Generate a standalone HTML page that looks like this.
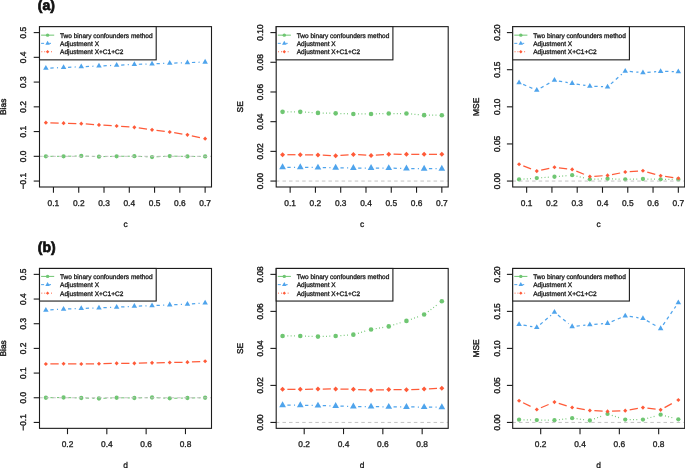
<!DOCTYPE html>
<html lang="en">
<head>
<meta charset="utf-8">
<title>Figure: Bias, SE and MSE</title>
<style>
html,body{margin:0;padding:0;background:#fff;}
body{width:685px;height:468px;overflow:hidden;}
svg{display:block;font-family:'Liberation Sans', Arial, Helvetica, sans-serif;text-rendering:geometricPrecision;}
text{stroke:#1c1c1c;stroke-width:0.32px;}
text.v{stroke-width:0.42px;}
</style>
</head>
<body>
<svg width="685" height="468" viewBox="0 0 685 468">
<rect x="0" y="0" width="685" height="468" fill="#fff"/>
<g>
<line x1="50.37" y1="156.32" x2="59.07" y2="156.32" stroke="#6fc672" stroke-width="1" stroke-dasharray="3.3 3.3"/>
<line x1="68.06" y1="156.22" x2="76.76" y2="156.04" stroke="#6fc672" stroke-width="1" stroke-dasharray="3.3 3.3"/>
<line x1="85.76" y1="156.13" x2="94.46" y2="156.5" stroke="#6fc672" stroke-width="1" stroke-dasharray="3.3 3.3"/>
<line x1="103.46" y1="156.59" x2="112.15" y2="156.41" stroke="#6fc672" stroke-width="1" stroke-dasharray="3.3 3.3"/>
<line x1="121.15" y1="156.28" x2="129.85" y2="156.22" stroke="#6fc672" stroke-width="1" stroke-dasharray="3.3 3.3"/>
<line x1="138.84" y1="156.41" x2="147.55" y2="156.84" stroke="#6fc672" stroke-width="1" stroke-dasharray="3.3 3.3"/>
<line x1="156.54" y1="156.81" x2="165.25" y2="156.32" stroke="#6fc672" stroke-width="1" stroke-dasharray="3.3 3.3"/>
<line x1="174.24" y1="156.16" x2="182.94" y2="156.35" stroke="#6fc672" stroke-width="1" stroke-dasharray="3.3 3.3"/>
<line x1="191.93" y1="156.44" x2="200.63" y2="156.44" stroke="#6fc672" stroke-width="1" stroke-dasharray="3.3 3.3"/>
<circle cx="45.87" cy="156.32" r="2.15" fill="#6fc672"/>
<circle cx="63.57" cy="156.32" r="2.15" fill="#6fc672"/>
<circle cx="81.26" cy="155.94" r="2.15" fill="#6fc672"/>
<circle cx="98.96" cy="156.69" r="2.15" fill="#6fc672"/>
<circle cx="116.65" cy="156.32" r="2.15" fill="#6fc672"/>
<circle cx="134.35" cy="156.19" r="2.15" fill="#6fc672"/>
<circle cx="152.04" cy="157.06" r="2.15" fill="#6fc672"/>
<circle cx="169.74" cy="156.07" r="2.15" fill="#6fc672"/>
<circle cx="187.43" cy="156.44" r="2.15" fill="#6fc672"/>
<circle cx="205.13" cy="156.44" r="2.15" fill="#6fc672"/>
<line x1="50.37" y1="68.07" x2="59.07" y2="67.68" stroke="#4fa4ec" stroke-width="1.25" stroke-dasharray="3.3 3.3 1.1 3"/>
<line x1="68.06" y1="67.29" x2="76.77" y2="66.93" stroke="#4fa4ec" stroke-width="1.25" stroke-dasharray="3.3 3.3 1.1 3"/>
<line x1="85.76" y1="66.55" x2="94.46" y2="66.18" stroke="#4fa4ec" stroke-width="1.25" stroke-dasharray="3.3 3.3 1.1 3"/>
<line x1="103.45" y1="65.81" x2="112.16" y2="65.44" stroke="#4fa4ec" stroke-width="1.25" stroke-dasharray="3.3 3.3 1.1 3"/>
<line x1="121.15" y1="65.03" x2="129.85" y2="64.61" stroke="#4fa4ec" stroke-width="1.25" stroke-dasharray="3.3 3.3 1.1 3"/>
<line x1="138.85" y1="64.25" x2="147.55" y2="63.98" stroke="#4fa4ec" stroke-width="1.25" stroke-dasharray="3.3 3.3 1.1 3"/>
<line x1="156.54" y1="63.67" x2="165.24" y2="63.33" stroke="#4fa4ec" stroke-width="1.25" stroke-dasharray="3.3 3.3 1.1 3"/>
<line x1="174.24" y1="63.02" x2="182.94" y2="62.78" stroke="#4fa4ec" stroke-width="1.25" stroke-dasharray="3.3 3.3 1.1 3"/>
<line x1="191.93" y1="62.5" x2="200.63" y2="62.19" stroke="#4fa4ec" stroke-width="1.25" stroke-dasharray="3.3 3.3 1.1 3"/>
<polygon points="45.87,65.08 48.63,69.87 43.11,69.87" fill="#4fa4ec"/>
<polygon points="63.57,64.29 66.33,69.07 60.8,69.07" fill="#4fa4ec"/>
<polygon points="81.26,63.55 84.02,68.33 78.5,68.33" fill="#4fa4ec"/>
<polygon points="98.96,62.81 101.72,67.59 96.2,67.59" fill="#4fa4ec"/>
<polygon points="116.65,62.06 119.41,66.85 113.89,66.85" fill="#4fa4ec"/>
<polygon points="134.35,61.2 137.11,65.98 131.59,65.98" fill="#4fa4ec"/>
<polygon points="152.04,60.65 154.8,65.44 149.28,65.44" fill="#4fa4ec"/>
<polygon points="169.74,59.96 172.5,64.74 166.98,64.74" fill="#4fa4ec"/>
<polygon points="187.43,59.47 190.2,64.25 184.67,64.25" fill="#4fa4ec"/>
<polygon points="205.13,58.85 207.89,63.63 202.37,63.63" fill="#4fa4ec"/>
<line x1="50.37" y1="122.79" x2="59.07" y2="123.03" stroke="#ff5a38" stroke-width="1.25" stroke-dasharray="8.3 4"/>
<line x1="68.06" y1="123.28" x2="76.76" y2="123.53" stroke="#ff5a38" stroke-width="1.25" stroke-dasharray="8.3 4"/>
<line x1="85.75" y1="123.97" x2="94.47" y2="124.58" stroke="#ff5a38" stroke-width="1.25" stroke-dasharray="8.3 4"/>
<line x1="103.45" y1="125.18" x2="112.16" y2="125.76" stroke="#ff5a38" stroke-width="1.25" stroke-dasharray="8.3 4"/>
<line x1="121.14" y1="126.38" x2="129.86" y2="127.03" stroke="#ff5a38" stroke-width="1.25" stroke-dasharray="8.3 4"/>
<line x1="138.8" y1="127.99" x2="147.59" y2="129.23" stroke="#ff5a38" stroke-width="1.25" stroke-dasharray="8.3 4"/>
<line x1="156.51" y1="130.39" x2="165.27" y2="131.44" stroke="#ff5a38" stroke-width="1.25" stroke-dasharray="8.3 4"/>
<line x1="174.18" y1="132.69" x2="182.99" y2="134.13" stroke="#ff5a38" stroke-width="1.25" stroke-dasharray="8.3 4"/>
<line x1="191.83" y1="135.81" x2="200.73" y2="137.72" stroke="#ff5a38" stroke-width="1.25" stroke-dasharray="8.3 4"/>
<polygon points="43.82,122.66 45.87,120.61 47.92,122.66 45.87,124.71" fill="#ff5a38"/>
<polygon points="61.52,123.16 63.57,121.11 65.62,123.16 63.57,125.21" fill="#ff5a38"/>
<polygon points="79.21,123.65 81.26,121.6 83.31,123.65 81.26,125.7" fill="#ff5a38"/>
<polygon points="96.91,124.89 98.96,122.84 101.01,124.89 98.96,126.94" fill="#ff5a38"/>
<polygon points="114.6,126.05 116.65,124 118.7,126.05 116.65,128.1" fill="#ff5a38"/>
<polygon points="132.3,127.36 134.35,125.31 136.4,127.36 134.35,129.41" fill="#ff5a38"/>
<polygon points="149.99,129.86 152.04,127.81 154.09,129.86 152.04,131.91" fill="#ff5a38"/>
<polygon points="167.69,131.97 169.74,129.92 171.79,131.97 169.74,134.02" fill="#ff5a38"/>
<polygon points="185.38,134.86 187.43,132.81 189.48,134.86 187.43,136.91" fill="#ff5a38"/>
<polygon points="203.08,138.67 205.13,136.62 207.18,138.67 205.13,140.72" fill="#ff5a38"/>
<line x1="39.2" y1="156.32" x2="211" y2="156.32" stroke="#c0c0c0" stroke-width="0.95" stroke-dasharray="3.5 3.07"/>
<rect x="39.5" y="26.65" width="172" height="160.35" fill="none" stroke="#1c1c1c" stroke-width="1.1"/>
<line x1="53.45" y1="187" x2="53.45" y2="192.8" stroke="#1c1c1c" stroke-width="1.1"/>
<text x="53.45" y="206" font-size="8.4" text-anchor="middle" fill="#1c1c1c">0.1</text>
<line x1="78.73" y1="187" x2="78.73" y2="192.8" stroke="#1c1c1c" stroke-width="1.1"/>
<text x="78.73" y="206" font-size="8.4" text-anchor="middle" fill="#1c1c1c">0.2</text>
<line x1="104.01" y1="187" x2="104.01" y2="192.8" stroke="#1c1c1c" stroke-width="1.1"/>
<text x="104.01" y="206" font-size="8.4" text-anchor="middle" fill="#1c1c1c">0.3</text>
<line x1="129.29" y1="187" x2="129.29" y2="192.8" stroke="#1c1c1c" stroke-width="1.1"/>
<text x="129.29" y="206" font-size="8.4" text-anchor="middle" fill="#1c1c1c">0.4</text>
<line x1="154.57" y1="187" x2="154.57" y2="192.8" stroke="#1c1c1c" stroke-width="1.1"/>
<text x="154.57" y="206" font-size="8.4" text-anchor="middle" fill="#1c1c1c">0.5</text>
<line x1="179.85" y1="187" x2="179.85" y2="192.8" stroke="#1c1c1c" stroke-width="1.1"/>
<text x="179.85" y="206" font-size="8.4" text-anchor="middle" fill="#1c1c1c">0.6</text>
<line x1="205.13" y1="187" x2="205.13" y2="192.8" stroke="#1c1c1c" stroke-width="1.1"/>
<text x="205.13" y="206" font-size="8.4" text-anchor="middle" fill="#1c1c1c">0.7</text>
<line x1="33.7" y1="181.06" x2="39.5" y2="181.06" stroke="#1c1c1c" stroke-width="1.1"/>
<text transform="translate(26.4 181.06) rotate(-90)" class="v" font-size="8.4" text-anchor="middle" fill="#1c1c1c">−0.1</text>
<line x1="33.7" y1="156.32" x2="39.5" y2="156.32" stroke="#1c1c1c" stroke-width="1.1"/>
<text transform="translate(26.4 156.32) rotate(-90)" class="v" font-size="8.4" text-anchor="middle" fill="#1c1c1c">0.0</text>
<line x1="33.7" y1="131.57" x2="39.5" y2="131.57" stroke="#1c1c1c" stroke-width="1.1"/>
<text transform="translate(26.4 131.57) rotate(-90)" class="v" font-size="8.4" text-anchor="middle" fill="#1c1c1c">0.1</text>
<line x1="33.7" y1="106.83" x2="39.5" y2="106.83" stroke="#1c1c1c" stroke-width="1.1"/>
<text transform="translate(26.4 106.83) rotate(-90)" class="v" font-size="8.4" text-anchor="middle" fill="#1c1c1c">0.2</text>
<line x1="33.7" y1="82.08" x2="39.5" y2="82.08" stroke="#1c1c1c" stroke-width="1.1"/>
<text transform="translate(26.4 82.08) rotate(-90)" class="v" font-size="8.4" text-anchor="middle" fill="#1c1c1c">0.3</text>
<line x1="33.7" y1="57.33" x2="39.5" y2="57.33" stroke="#1c1c1c" stroke-width="1.1"/>
<text transform="translate(26.4 57.33) rotate(-90)" class="v" font-size="8.4" text-anchor="middle" fill="#1c1c1c">0.4</text>
<line x1="33.7" y1="32.59" x2="39.5" y2="32.59" stroke="#1c1c1c" stroke-width="1.1"/>
<text transform="translate(26.4 32.59) rotate(-90)" class="v" font-size="8.4" text-anchor="middle" fill="#1c1c1c">0.5</text>
<text x="125.5" y="226.6" font-size="8.4" text-anchor="middle" fill="#1c1c1c">c</text>
<text transform="translate(6.1 106.83) rotate(-90)" class="v" font-size="8.4" text-anchor="middle" fill="#1c1c1c">Bias</text>
<rect x="39.5" y="26.65" width="116.7" height="33.2" fill="#fff" stroke="#1c1c1c" stroke-width="1.1"/>
<line x1="41.1" y1="35.15" x2="54.2" y2="35.15" stroke="#6fc672" stroke-width="1"/>
<circle cx="47.6" cy="35.15" r="1.7" fill="#6fc672"/>
<text x="60" y="37.5" font-size="6.52" fill="#1c1c1c" textLength="92.6" lengthAdjust="spacing">Two binary confounders method</text>
<line x1="41.1" y1="43.35" x2="44.1" y2="43.35" stroke="#4fa4ec" stroke-width="1"/>
<line x1="49.1" y1="43.35" x2="51" y2="43.35" stroke="#4fa4ec" stroke-width="1"/>
<polygon points="47.6,40.71 49.89,44.67 45.31,44.67" fill="#4fa4ec"/>
<text x="60" y="45.7" font-size="6.52" fill="#1c1c1c" textLength="39.0" lengthAdjust="spacing">Adjustment X</text>
<line x1="41.4" y1="51.75" x2="42.3" y2="51.75" stroke="#ff5a38" stroke-width="1"/>
<line x1="44.3" y1="51.75" x2="45.2" y2="51.75" stroke="#ff5a38" stroke-width="1"/>
<line x1="51" y1="51.75" x2="51.9" y2="51.75" stroke="#ff5a38" stroke-width="1"/>
<polygon points="45.9,51.75 47.6,50.05 49.3,51.75 47.6,53.45" fill="#ff5a38"/>
<text x="60" y="54.1" font-size="6.52" fill="#1c1c1c" textLength="63.4" lengthAdjust="spacing">Adjustment X+C1+C2</text>
</g>
<g>
<line x1="287.37" y1="111.87" x2="295.47" y2="111.87" stroke="#6fc672" stroke-width="1.25" stroke-dasharray="0.9 2.4"/>
<line x1="305.06" y1="112.15" x2="313.17" y2="112.63" stroke="#6fc672" stroke-width="1.25" stroke-dasharray="0.9 2.4"/>
<line x1="322.76" y1="113.03" x2="330.86" y2="113.24" stroke="#6fc672" stroke-width="1.25" stroke-dasharray="0.9 2.4"/>
<line x1="340.45" y1="113.52" x2="348.55" y2="113.79" stroke="#6fc672" stroke-width="1.25" stroke-dasharray="0.9 2.4"/>
<line x1="358.15" y1="113.95" x2="366.25" y2="113.95" stroke="#6fc672" stroke-width="1.25" stroke-dasharray="0.9 2.4"/>
<line x1="375.85" y1="113.83" x2="383.94" y2="113.63" stroke="#6fc672" stroke-width="1.25" stroke-dasharray="0.9 2.4"/>
<line x1="393.54" y1="113.51" x2="401.64" y2="113.51" stroke="#6fc672" stroke-width="1.25" stroke-dasharray="0.9 2.4"/>
<line x1="411.22" y1="113.95" x2="419.35" y2="114.7" stroke="#6fc672" stroke-width="1.25" stroke-dasharray="0.9 2.4"/>
<line x1="428.93" y1="115.18" x2="437.03" y2="115.25" stroke="#6fc672" stroke-width="1.25" stroke-dasharray="0.9 2.4"/>
<circle cx="282.57" cy="111.87" r="2.3" fill="#6fc672"/>
<circle cx="300.27" cy="111.87" r="2.3" fill="#6fc672"/>
<circle cx="317.96" cy="112.91" r="2.3" fill="#6fc672"/>
<circle cx="335.66" cy="113.36" r="2.3" fill="#6fc672"/>
<circle cx="353.35" cy="113.95" r="2.3" fill="#6fc672"/>
<circle cx="371.05" cy="113.95" r="2.3" fill="#6fc672"/>
<circle cx="388.74" cy="113.51" r="2.3" fill="#6fc672"/>
<circle cx="406.44" cy="113.51" r="2.3" fill="#6fc672"/>
<circle cx="424.13" cy="115.14" r="2.3" fill="#6fc672"/>
<circle cx="441.83" cy="115.29" r="2.3" fill="#6fc672"/>
<line x1="287.37" y1="167.25" x2="295.47" y2="167.25" stroke="#4fa4ec" stroke-width="1.25" stroke-dasharray="3.3 3.3 1.1 3"/>
<line x1="305.07" y1="167.33" x2="313.16" y2="167.47" stroke="#4fa4ec" stroke-width="1.25" stroke-dasharray="3.3 3.3 1.1 3"/>
<line x1="322.76" y1="167.59" x2="330.86" y2="167.66" stroke="#4fa4ec" stroke-width="1.25" stroke-dasharray="3.3 3.3 1.1 3"/>
<line x1="340.46" y1="167.78" x2="348.55" y2="167.92" stroke="#4fa4ec" stroke-width="1.25" stroke-dasharray="3.3 3.3 1.1 3"/>
<line x1="358.15" y1="168" x2="366.25" y2="168" stroke="#4fa4ec" stroke-width="1.25" stroke-dasharray="3.3 3.3 1.1 3"/>
<line x1="375.85" y1="168.04" x2="383.94" y2="168.1" stroke="#4fa4ec" stroke-width="1.25" stroke-dasharray="3.3 3.3 1.1 3"/>
<line x1="393.54" y1="168.22" x2="401.64" y2="168.36" stroke="#4fa4ec" stroke-width="1.25" stroke-dasharray="3.3 3.3 1.1 3"/>
<line x1="411.24" y1="168.52" x2="419.33" y2="168.66" stroke="#4fa4ec" stroke-width="1.25" stroke-dasharray="3.3 3.3 1.1 3"/>
<line x1="428.93" y1="168.74" x2="437.03" y2="168.74" stroke="#4fa4ec" stroke-width="1.25" stroke-dasharray="3.3 3.3 1.1 3"/>
<polygon points="282.57,163.37 285.94,169.2 279.2,169.2" fill="#4fa4ec"/>
<polygon points="300.27,163.37 303.63,169.2 296.9,169.2" fill="#4fa4ec"/>
<polygon points="317.96,163.66 321.33,169.49 314.59,169.49" fill="#4fa4ec"/>
<polygon points="335.66,163.81 339.02,169.64 332.29,169.64" fill="#4fa4ec"/>
<polygon points="353.35,164.11 356.72,169.94 349.99,169.94" fill="#4fa4ec"/>
<polygon points="371.05,164.11 374.41,169.94 367.68,169.94" fill="#4fa4ec"/>
<polygon points="388.74,164.26 392.11,170.09 385.38,170.09" fill="#4fa4ec"/>
<polygon points="406.44,164.55 409.81,170.38 403.07,170.38" fill="#4fa4ec"/>
<polygon points="424.13,164.85 427.5,170.68 420.77,170.68" fill="#4fa4ec"/>
<polygon points="441.83,164.85 445.2,170.68 438.46,170.68" fill="#4fa4ec"/>
<line x1="287.37" y1="154.71" x2="295.47" y2="154.71" stroke="#ff5a38" stroke-width="1.25" stroke-dasharray="8.3 4"/>
<line x1="305.06" y1="154.81" x2="313.16" y2="154.98" stroke="#ff5a38" stroke-width="1.25" stroke-dasharray="8.3 4"/>
<line x1="322.76" y1="155.24" x2="330.86" y2="155.51" stroke="#ff5a38" stroke-width="1.25" stroke-dasharray="8.3 4"/>
<line x1="340.45" y1="155.35" x2="348.56" y2="154.81" stroke="#ff5a38" stroke-width="1.25" stroke-dasharray="8.3 4"/>
<line x1="358.15" y1="154.73" x2="366.25" y2="155.13" stroke="#ff5a38" stroke-width="1.25" stroke-dasharray="8.3 4"/>
<line x1="375.84" y1="155.05" x2="383.95" y2="154.51" stroke="#ff5a38" stroke-width="1.25" stroke-dasharray="8.3 4"/>
<line x1="393.54" y1="154.23" x2="401.64" y2="154.3" stroke="#ff5a38" stroke-width="1.25" stroke-dasharray="8.3 4"/>
<line x1="411.24" y1="154.34" x2="419.33" y2="154.34" stroke="#ff5a38" stroke-width="1.25" stroke-dasharray="8.3 4"/>
<line x1="428.93" y1="154.34" x2="437.03" y2="154.34" stroke="#ff5a38" stroke-width="1.25" stroke-dasharray="8.3 4"/>
<polygon points="280.07,154.71 282.57,152.21 285.07,154.71 282.57,157.21" fill="#ff5a38"/>
<polygon points="297.77,154.71 300.27,152.21 302.77,154.71 300.27,157.21" fill="#ff5a38"/>
<polygon points="315.46,155.08 317.96,152.58 320.46,155.08 317.96,157.58" fill="#ff5a38"/>
<polygon points="333.16,155.67 335.66,153.17 338.16,155.67 335.66,158.17" fill="#ff5a38"/>
<polygon points="350.85,154.48 353.35,151.98 355.85,154.48 353.35,156.98" fill="#ff5a38"/>
<polygon points="368.55,155.38 371.05,152.88 373.55,155.38 371.05,157.88" fill="#ff5a38"/>
<polygon points="386.24,154.19 388.74,151.69 391.24,154.19 388.74,156.69" fill="#ff5a38"/>
<polygon points="403.94,154.34 406.44,151.84 408.94,154.34 406.44,156.84" fill="#ff5a38"/>
<polygon points="421.63,154.34 424.13,151.84 426.63,154.34 424.13,156.84" fill="#ff5a38"/>
<polygon points="439.33,154.34 441.83,151.84 444.33,154.34 441.83,156.84" fill="#ff5a38"/>
<line x1="275.9" y1="181.06" x2="447.7" y2="181.06" stroke="#c0c0c0" stroke-width="0.95" stroke-dasharray="3.5 3.07"/>
<rect x="276.2" y="26.65" width="172" height="160.35" fill="none" stroke="#1c1c1c" stroke-width="1.1"/>
<line x1="290.15" y1="187" x2="290.15" y2="192.8" stroke="#1c1c1c" stroke-width="1.1"/>
<text x="290.15" y="206" font-size="8.4" text-anchor="middle" fill="#1c1c1c">0.1</text>
<line x1="315.43" y1="187" x2="315.43" y2="192.8" stroke="#1c1c1c" stroke-width="1.1"/>
<text x="315.43" y="206" font-size="8.4" text-anchor="middle" fill="#1c1c1c">0.2</text>
<line x1="340.71" y1="187" x2="340.71" y2="192.8" stroke="#1c1c1c" stroke-width="1.1"/>
<text x="340.71" y="206" font-size="8.4" text-anchor="middle" fill="#1c1c1c">0.3</text>
<line x1="365.99" y1="187" x2="365.99" y2="192.8" stroke="#1c1c1c" stroke-width="1.1"/>
<text x="365.99" y="206" font-size="8.4" text-anchor="middle" fill="#1c1c1c">0.4</text>
<line x1="391.27" y1="187" x2="391.27" y2="192.8" stroke="#1c1c1c" stroke-width="1.1"/>
<text x="391.27" y="206" font-size="8.4" text-anchor="middle" fill="#1c1c1c">0.5</text>
<line x1="416.55" y1="187" x2="416.55" y2="192.8" stroke="#1c1c1c" stroke-width="1.1"/>
<text x="416.55" y="206" font-size="8.4" text-anchor="middle" fill="#1c1c1c">0.6</text>
<line x1="441.83" y1="187" x2="441.83" y2="192.8" stroke="#1c1c1c" stroke-width="1.1"/>
<text x="441.83" y="206" font-size="8.4" text-anchor="middle" fill="#1c1c1c">0.7</text>
<line x1="270.4" y1="181.06" x2="276.2" y2="181.06" stroke="#1c1c1c" stroke-width="1.1"/>
<text transform="translate(263.1 181.06) rotate(-90)" class="v" font-size="8.4" text-anchor="middle" fill="#1c1c1c">0.00</text>
<line x1="270.4" y1="151.37" x2="276.2" y2="151.37" stroke="#1c1c1c" stroke-width="1.1"/>
<text transform="translate(263.1 151.37) rotate(-90)" class="v" font-size="8.4" text-anchor="middle" fill="#1c1c1c">0.02</text>
<line x1="270.4" y1="121.67" x2="276.2" y2="121.67" stroke="#1c1c1c" stroke-width="1.1"/>
<text transform="translate(263.1 121.67) rotate(-90)" class="v" font-size="8.4" text-anchor="middle" fill="#1c1c1c">0.04</text>
<line x1="270.4" y1="91.98" x2="276.2" y2="91.98" stroke="#1c1c1c" stroke-width="1.1"/>
<text transform="translate(263.1 91.98) rotate(-90)" class="v" font-size="8.4" text-anchor="middle" fill="#1c1c1c">0.06</text>
<line x1="270.4" y1="62.28" x2="276.2" y2="62.28" stroke="#1c1c1c" stroke-width="1.1"/>
<text transform="translate(263.1 62.28) rotate(-90)" class="v" font-size="8.4" text-anchor="middle" fill="#1c1c1c">0.08</text>
<line x1="270.4" y1="32.59" x2="276.2" y2="32.59" stroke="#1c1c1c" stroke-width="1.1"/>
<text transform="translate(263.1 32.59) rotate(-90)" class="v" font-size="8.4" text-anchor="middle" fill="#1c1c1c">0.10</text>
<text x="362.2" y="226.6" font-size="8.4" text-anchor="middle" fill="#1c1c1c">c</text>
<text transform="translate(242.8 106.83) rotate(-90)" class="v" font-size="8.4" text-anchor="middle" fill="#1c1c1c">SE</text>
<rect x="276.2" y="26.65" width="116.7" height="33.2" fill="#fff" stroke="#1c1c1c" stroke-width="1.1"/>
<line x1="277.8" y1="35.15" x2="290.9" y2="35.15" stroke="#6fc672" stroke-width="1"/>
<circle cx="284.3" cy="35.15" r="1.7" fill="#6fc672"/>
<text x="296.7" y="37.5" font-size="6.52" fill="#1c1c1c" textLength="92.6" lengthAdjust="spacing">Two binary confounders method</text>
<line x1="277.8" y1="43.35" x2="280.8" y2="43.35" stroke="#4fa4ec" stroke-width="1"/>
<line x1="285.8" y1="43.35" x2="287.7" y2="43.35" stroke="#4fa4ec" stroke-width="1"/>
<polygon points="284.3,40.71 286.59,44.67 282.01,44.67" fill="#4fa4ec"/>
<text x="296.7" y="45.7" font-size="6.52" fill="#1c1c1c" textLength="39.0" lengthAdjust="spacing">Adjustment X</text>
<line x1="278.1" y1="51.75" x2="279" y2="51.75" stroke="#ff5a38" stroke-width="1"/>
<line x1="281" y1="51.75" x2="281.9" y2="51.75" stroke="#ff5a38" stroke-width="1"/>
<line x1="287.7" y1="51.75" x2="288.6" y2="51.75" stroke="#ff5a38" stroke-width="1"/>
<polygon points="282.6,51.75 284.3,50.05 286,51.75 284.3,53.45" fill="#ff5a38"/>
<text x="296.7" y="54.1" font-size="6.52" fill="#1c1c1c" textLength="63.4" lengthAdjust="spacing">Adjustment X+C1+C2</text>
</g>
<g>
<line x1="523.56" y1="179.06" x2="532.28" y2="178.42" stroke="#6fc672" stroke-width="1.25" stroke-dasharray="0.9 2.4"/>
<line x1="541.25" y1="177.75" x2="549.97" y2="177.09" stroke="#6fc672" stroke-width="1.25" stroke-dasharray="0.9 2.4"/>
<line x1="558.94" y1="176.36" x2="567.67" y2="175.59" stroke="#6fc672" stroke-width="1.25" stroke-dasharray="0.9 2.4"/>
<line x1="576.54" y1="176.21" x2="585.47" y2="178.27" stroke="#6fc672" stroke-width="1.25" stroke-dasharray="0.9 2.4"/>
<line x1="594.35" y1="179.15" x2="603.05" y2="178.89" stroke="#6fc672" stroke-width="1.25" stroke-dasharray="0.9 2.4"/>
<line x1="612.05" y1="178.91" x2="620.75" y2="179.2" stroke="#6fc672" stroke-width="1.25" stroke-dasharray="0.9 2.4"/>
<line x1="629.74" y1="179.26" x2="638.44" y2="179.08" stroke="#6fc672" stroke-width="1.25" stroke-dasharray="0.9 2.4"/>
<line x1="647.44" y1="179.06" x2="656.13" y2="179.2" stroke="#6fc672" stroke-width="1.25" stroke-dasharray="0.9 2.4"/>
<line x1="665.13" y1="179.32" x2="673.83" y2="179.39" stroke="#6fc672" stroke-width="1.25" stroke-dasharray="0.9 2.4"/>
<circle cx="519.07" cy="179.38" r="2.15" fill="#6fc672"/>
<circle cx="536.77" cy="178.09" r="2.15" fill="#6fc672"/>
<circle cx="554.46" cy="176.76" r="2.15" fill="#6fc672"/>
<circle cx="572.16" cy="175.2" r="2.15" fill="#6fc672"/>
<circle cx="589.85" cy="179.28" r="2.15" fill="#6fc672"/>
<circle cx="607.55" cy="178.76" r="2.15" fill="#6fc672"/>
<circle cx="625.24" cy="179.35" r="2.15" fill="#6fc672"/>
<circle cx="642.94" cy="178.98" r="2.15" fill="#6fc672"/>
<circle cx="660.63" cy="179.28" r="2.15" fill="#6fc672"/>
<circle cx="678.33" cy="179.43" r="2.15" fill="#6fc672"/>
<line x1="523.21" y1="84.45" x2="532.62" y2="88.44" stroke="#4fa4ec" stroke-width="1.25" stroke-dasharray="3.3 3.3"/>
<line x1="540.69" y1="87.99" x2="550.54" y2="82.45" stroke="#4fa4ec" stroke-width="1.25" stroke-dasharray="3.3 3.3"/>
<line x1="558.9" y1="81.01" x2="567.72" y2="82.53" stroke="#4fa4ec" stroke-width="1.25" stroke-dasharray="3.3 3.3"/>
<line x1="576.6" y1="84.02" x2="585.41" y2="85.46" stroke="#4fa4ec" stroke-width="1.25" stroke-dasharray="3.3 3.3"/>
<line x1="594.35" y1="86.36" x2="603.05" y2="86.69" stroke="#4fa4ec" stroke-width="1.25" stroke-dasharray="3.3 3.3"/>
<line x1="610.91" y1="83.86" x2="621.88" y2="74.11" stroke="#4fa4ec" stroke-width="1.25" stroke-dasharray="3.3 3.3"/>
<line x1="629.73" y1="71.49" x2="638.45" y2="72.23" stroke="#4fa4ec" stroke-width="1.25" stroke-dasharray="3.3 3.3"/>
<line x1="647.43" y1="72.28" x2="656.15" y2="71.66" stroke="#4fa4ec" stroke-width="1.25" stroke-dasharray="3.3 3.3"/>
<line x1="665.13" y1="71.42" x2="673.83" y2="71.56" stroke="#4fa4ec" stroke-width="1.25" stroke-dasharray="3.3 3.3"/>
<polygon points="519.07,79.51 521.83,84.29 516.31,84.29" fill="#4fa4ec"/>
<polygon points="536.77,87.01 539.53,91.79 534,91.79" fill="#4fa4ec"/>
<polygon points="554.46,77.06 557.22,81.84 551.7,81.84" fill="#4fa4ec"/>
<polygon points="572.16,80.1 574.92,84.89 569.4,84.89" fill="#4fa4ec"/>
<polygon points="589.85,83 592.61,87.78 587.09,87.78" fill="#4fa4ec"/>
<polygon points="607.55,83.67 610.31,88.45 604.79,88.45" fill="#4fa4ec"/>
<polygon points="625.24,67.93 628,72.71 622.48,72.71" fill="#4fa4ec"/>
<polygon points="642.94,69.41 645.7,74.2 640.18,74.2" fill="#4fa4ec"/>
<polygon points="660.63,68.15 663.4,72.93 657.87,72.93" fill="#4fa4ec"/>
<polygon points="678.33,68.45 681.09,73.23 675.57,73.23" fill="#4fa4ec"/>
<line x1="523.27" y1="165.9" x2="532.57" y2="169.49" stroke="#ff5a38" stroke-width="1.25" stroke-dasharray="8.3 4"/>
<line x1="541.16" y1="170.15" x2="550.06" y2="168.21" stroke="#ff5a38" stroke-width="1.25" stroke-dasharray="8.3 4"/>
<line x1="558.93" y1="167.8" x2="567.69" y2="168.86" stroke="#ff5a38" stroke-width="1.25" stroke-dasharray="8.3 4"/>
<line x1="576.32" y1="171.1" x2="585.68" y2="174.91" stroke="#ff5a38" stroke-width="1.25" stroke-dasharray="8.3 4"/>
<line x1="594.34" y1="176.31" x2="603.06" y2="175.72" stroke="#ff5a38" stroke-width="1.25" stroke-dasharray="8.3 4"/>
<line x1="611.97" y1="174.57" x2="620.82" y2="172.86" stroke="#ff5a38" stroke-width="1.25" stroke-dasharray="8.3 4"/>
<line x1="629.73" y1="171.7" x2="638.45" y2="171.12" stroke="#ff5a38" stroke-width="1.25" stroke-dasharray="8.3 4"/>
<line x1="647.27" y1="172.03" x2="656.3" y2="174.57" stroke="#ff5a38" stroke-width="1.25" stroke-dasharray="8.3 4"/>
<line x1="665.09" y1="176.43" x2="673.87" y2="177.68" stroke="#ff5a38" stroke-width="1.25" stroke-dasharray="8.3 4"/>
<polygon points="517.02,164.28 519.07,162.23 521.12,164.28 519.07,166.33" fill="#ff5a38"/>
<polygon points="534.72,171.11 536.77,169.06 538.82,171.11 536.77,173.16" fill="#ff5a38"/>
<polygon points="552.41,167.25 554.46,165.2 556.51,167.25 554.46,169.3" fill="#ff5a38"/>
<polygon points="570.11,169.41 572.16,167.36 574.21,169.41 572.16,171.46" fill="#ff5a38"/>
<polygon points="587.8,176.61 589.85,174.56 591.9,176.61 589.85,178.66" fill="#ff5a38"/>
<polygon points="605.5,175.42 607.55,173.37 609.6,175.42 607.55,177.47" fill="#ff5a38"/>
<polygon points="623.19,172 625.24,169.95 627.29,172 625.24,174.05" fill="#ff5a38"/>
<polygon points="640.89,170.82 642.94,168.77 644.99,170.82 642.94,172.87" fill="#ff5a38"/>
<polygon points="658.58,175.79 660.63,173.74 662.68,175.79 660.63,177.84" fill="#ff5a38"/>
<polygon points="676.28,178.31 678.33,176.26 680.38,178.31 678.33,180.36" fill="#ff5a38"/>
<line x1="512.4" y1="181.06" x2="684.2" y2="181.06" stroke="#c0c0c0" stroke-width="0.95" stroke-dasharray="3.5 3.07"/>
<rect x="512.7" y="26.65" width="172" height="160.35" fill="none" stroke="#1c1c1c" stroke-width="1.1"/>
<line x1="526.65" y1="187" x2="526.65" y2="192.8" stroke="#1c1c1c" stroke-width="1.1"/>
<text x="526.65" y="206" font-size="8.4" text-anchor="middle" fill="#1c1c1c">0.1</text>
<line x1="551.93" y1="187" x2="551.93" y2="192.8" stroke="#1c1c1c" stroke-width="1.1"/>
<text x="551.93" y="206" font-size="8.4" text-anchor="middle" fill="#1c1c1c">0.2</text>
<line x1="577.21" y1="187" x2="577.21" y2="192.8" stroke="#1c1c1c" stroke-width="1.1"/>
<text x="577.21" y="206" font-size="8.4" text-anchor="middle" fill="#1c1c1c">0.3</text>
<line x1="602.49" y1="187" x2="602.49" y2="192.8" stroke="#1c1c1c" stroke-width="1.1"/>
<text x="602.49" y="206" font-size="8.4" text-anchor="middle" fill="#1c1c1c">0.4</text>
<line x1="627.77" y1="187" x2="627.77" y2="192.8" stroke="#1c1c1c" stroke-width="1.1"/>
<text x="627.77" y="206" font-size="8.4" text-anchor="middle" fill="#1c1c1c">0.5</text>
<line x1="653.05" y1="187" x2="653.05" y2="192.8" stroke="#1c1c1c" stroke-width="1.1"/>
<text x="653.05" y="206" font-size="8.4" text-anchor="middle" fill="#1c1c1c">0.6</text>
<line x1="678.33" y1="187" x2="678.33" y2="192.8" stroke="#1c1c1c" stroke-width="1.1"/>
<text x="678.33" y="206" font-size="8.4" text-anchor="middle" fill="#1c1c1c">0.7</text>
<line x1="506.9" y1="181.06" x2="512.7" y2="181.06" stroke="#1c1c1c" stroke-width="1.1"/>
<text transform="translate(499.6 181.06) rotate(-90)" class="v" font-size="8.4" text-anchor="middle" fill="#1c1c1c">0.00</text>
<line x1="506.9" y1="143.94" x2="512.7" y2="143.94" stroke="#1c1c1c" stroke-width="1.1"/>
<text transform="translate(499.6 143.94) rotate(-90)" class="v" font-size="8.4" text-anchor="middle" fill="#1c1c1c">0.05</text>
<line x1="506.9" y1="106.83" x2="512.7" y2="106.83" stroke="#1c1c1c" stroke-width="1.1"/>
<text transform="translate(499.6 106.83) rotate(-90)" class="v" font-size="8.4" text-anchor="middle" fill="#1c1c1c">0.10</text>
<line x1="506.9" y1="69.71" x2="512.7" y2="69.71" stroke="#1c1c1c" stroke-width="1.1"/>
<text transform="translate(499.6 69.71) rotate(-90)" class="v" font-size="8.4" text-anchor="middle" fill="#1c1c1c">0.15</text>
<line x1="506.9" y1="32.59" x2="512.7" y2="32.59" stroke="#1c1c1c" stroke-width="1.1"/>
<text transform="translate(499.6 32.59) rotate(-90)" class="v" font-size="8.4" text-anchor="middle" fill="#1c1c1c">0.20</text>
<text x="598.7" y="226.6" font-size="8.4" text-anchor="middle" fill="#1c1c1c">c</text>
<text transform="translate(479.3 106.83) rotate(-90)" class="v" font-size="8.4" text-anchor="middle" fill="#1c1c1c">MSE</text>
<rect x="512.7" y="26.65" width="116.7" height="33.2" fill="#fff" stroke="#1c1c1c" stroke-width="1.1"/>
<line x1="514.3" y1="35.15" x2="527.4" y2="35.15" stroke="#6fc672" stroke-width="1"/>
<circle cx="520.8" cy="35.15" r="1.7" fill="#6fc672"/>
<text x="533.2" y="37.5" font-size="6.52" fill="#1c1c1c" textLength="92.6" lengthAdjust="spacing">Two binary confounders method</text>
<line x1="514.3" y1="43.35" x2="517.3" y2="43.35" stroke="#4fa4ec" stroke-width="1"/>
<line x1="522.3" y1="43.35" x2="524.2" y2="43.35" stroke="#4fa4ec" stroke-width="1"/>
<polygon points="520.8,40.71 523.09,44.67 518.51,44.67" fill="#4fa4ec"/>
<text x="533.2" y="45.7" font-size="6.52" fill="#1c1c1c" textLength="39.0" lengthAdjust="spacing">Adjustment X</text>
<line x1="514.6" y1="51.75" x2="515.5" y2="51.75" stroke="#ff5a38" stroke-width="1"/>
<line x1="517.5" y1="51.75" x2="518.4" y2="51.75" stroke="#ff5a38" stroke-width="1"/>
<line x1="524.2" y1="51.75" x2="525.1" y2="51.75" stroke="#ff5a38" stroke-width="1"/>
<polygon points="519.1,51.75 520.8,50.05 522.5,51.75 520.8,53.45" fill="#ff5a38"/>
<text x="533.2" y="54.1" font-size="6.52" fill="#1c1c1c" textLength="63.4" lengthAdjust="spacing">Adjustment X+C1+C2</text>
</g>
<g>
<line x1="50.37" y1="397.69" x2="59.07" y2="397.57" stroke="#6fc672" stroke-width="1" stroke-dasharray="3.3 3.3"/>
<line x1="68.06" y1="397.63" x2="76.76" y2="397.87" stroke="#6fc672" stroke-width="1" stroke-dasharray="3.3 3.3"/>
<line x1="85.76" y1="398.12" x2="94.46" y2="398.37" stroke="#6fc672" stroke-width="1" stroke-dasharray="3.3 3.3"/>
<line x1="103.45" y1="398.3" x2="112.16" y2="397.94" stroke="#6fc672" stroke-width="1" stroke-dasharray="3.3 3.3"/>
<line x1="121.15" y1="397.81" x2="129.85" y2="397.94" stroke="#6fc672" stroke-width="1" stroke-dasharray="3.3 3.3"/>
<line x1="138.85" y1="397.87" x2="147.54" y2="397.63" stroke="#6fc672" stroke-width="1" stroke-dasharray="3.3 3.3"/>
<line x1="156.54" y1="397.72" x2="165.24" y2="398.15" stroke="#6fc672" stroke-width="1" stroke-dasharray="3.3 3.3"/>
<line x1="174.24" y1="398.27" x2="182.94" y2="398.09" stroke="#6fc672" stroke-width="1" stroke-dasharray="3.3 3.3"/>
<line x1="191.93" y1="397.94" x2="200.63" y2="397.81" stroke="#6fc672" stroke-width="1" stroke-dasharray="3.3 3.3"/>
<circle cx="45.87" cy="397.75" r="2.15" fill="#6fc672"/>
<circle cx="63.57" cy="397.51" r="2.15" fill="#6fc672"/>
<circle cx="81.26" cy="398" r="2.15" fill="#6fc672"/>
<circle cx="98.96" cy="398.49" r="2.15" fill="#6fc672"/>
<circle cx="116.65" cy="397.75" r="2.15" fill="#6fc672"/>
<circle cx="134.35" cy="398" r="2.15" fill="#6fc672"/>
<circle cx="152.04" cy="397.51" r="2.15" fill="#6fc672"/>
<circle cx="169.74" cy="398.37" r="2.15" fill="#6fc672"/>
<circle cx="187.43" cy="398" r="2.15" fill="#6fc672"/>
<circle cx="205.13" cy="397.75" r="2.15" fill="#6fc672"/>
<line x1="50.36" y1="309.85" x2="59.07" y2="309.37" stroke="#4fa4ec" stroke-width="1.25" stroke-dasharray="3.3 3.3 1.1 3"/>
<line x1="68.06" y1="308.95" x2="76.76" y2="308.64" stroke="#4fa4ec" stroke-width="1.25" stroke-dasharray="3.3 3.3 1.1 3"/>
<line x1="85.76" y1="308.34" x2="94.46" y2="308.07" stroke="#4fa4ec" stroke-width="1.25" stroke-dasharray="3.3 3.3 1.1 3"/>
<line x1="103.45" y1="307.73" x2="112.16" y2="307.34" stroke="#4fa4ec" stroke-width="1.25" stroke-dasharray="3.3 3.3 1.1 3"/>
<line x1="121.15" y1="306.92" x2="129.85" y2="306.5" stroke="#4fa4ec" stroke-width="1.25" stroke-dasharray="3.3 3.3 1.1 3"/>
<line x1="138.84" y1="306.11" x2="147.55" y2="305.78" stroke="#4fa4ec" stroke-width="1.25" stroke-dasharray="3.3 3.3 1.1 3"/>
<line x1="156.54" y1="305.41" x2="165.24" y2="305" stroke="#4fa4ec" stroke-width="1.25" stroke-dasharray="3.3 3.3 1.1 3"/>
<line x1="174.24" y1="304.63" x2="182.94" y2="304.3" stroke="#4fa4ec" stroke-width="1.25" stroke-dasharray="3.3 3.3 1.1 3"/>
<line x1="191.92" y1="303.83" x2="200.64" y2="303.25" stroke="#4fa4ec" stroke-width="1.25" stroke-dasharray="3.3 3.3 1.1 3"/>
<polygon points="45.87,306.92 48.63,311.7 43.11,311.7" fill="#4fa4ec"/>
<polygon points="63.57,305.93 66.33,310.71 60.8,310.71" fill="#4fa4ec"/>
<polygon points="81.26,305.29 84.02,310.07 78.5,310.07" fill="#4fa4ec"/>
<polygon points="98.96,304.74 101.72,309.53 96.2,309.53" fill="#4fa4ec"/>
<polygon points="116.65,303.95 119.41,308.74 113.89,308.74" fill="#4fa4ec"/>
<polygon points="134.35,303.09 137.11,307.87 131.59,307.87" fill="#4fa4ec"/>
<polygon points="152.04,302.42 154.8,307.21 149.28,307.21" fill="#4fa4ec"/>
<polygon points="169.74,301.61 172.5,306.39 166.98,306.39" fill="#4fa4ec"/>
<polygon points="187.43,300.94 190.2,305.73 184.67,305.73" fill="#4fa4ec"/>
<polygon points="205.13,299.76 207.89,304.54 202.37,304.54" fill="#4fa4ec"/>
<line x1="50.37" y1="363.95" x2="59.07" y2="363.82" stroke="#ff5a38" stroke-width="1.25" stroke-dasharray="8.3 4"/>
<line x1="68.07" y1="363.82" x2="76.76" y2="363.95" stroke="#ff5a38" stroke-width="1.25" stroke-dasharray="8.3 4"/>
<line x1="85.76" y1="363.95" x2="94.46" y2="363.82" stroke="#ff5a38" stroke-width="1.25" stroke-dasharray="8.3 4"/>
<line x1="103.46" y1="363.65" x2="112.15" y2="363.45" stroke="#ff5a38" stroke-width="1.25" stroke-dasharray="8.3 4"/>
<line x1="121.15" y1="363.35" x2="129.85" y2="363.35" stroke="#ff5a38" stroke-width="1.25" stroke-dasharray="8.3 4"/>
<line x1="138.85" y1="363.22" x2="147.55" y2="362.97" stroke="#ff5a38" stroke-width="1.25" stroke-dasharray="8.3 4"/>
<line x1="156.54" y1="362.77" x2="165.24" y2="362.63" stroke="#ff5a38" stroke-width="1.25" stroke-dasharray="8.3 4"/>
<line x1="174.24" y1="362.46" x2="182.94" y2="362.27" stroke="#ff5a38" stroke-width="1.25" stroke-dasharray="8.3 4"/>
<line x1="191.93" y1="361.94" x2="200.64" y2="361.49" stroke="#ff5a38" stroke-width="1.25" stroke-dasharray="8.3 4"/>
<polygon points="43.82,364.02 45.87,361.97 47.92,364.02 45.87,366.07" fill="#ff5a38"/>
<polygon points="61.52,363.75 63.57,361.7 65.62,363.75 63.57,365.8" fill="#ff5a38"/>
<polygon points="79.21,364.02 81.26,361.97 83.31,364.02 81.26,366.07" fill="#ff5a38"/>
<polygon points="96.91,363.75 98.96,361.7 101.01,363.75 98.96,365.8" fill="#ff5a38"/>
<polygon points="114.6,363.35 116.65,361.3 118.7,363.35 116.65,365.4" fill="#ff5a38"/>
<polygon points="132.3,363.35 134.35,361.3 136.4,363.35 134.35,365.4" fill="#ff5a38"/>
<polygon points="149.99,362.84 152.04,360.79 154.09,362.84 152.04,364.89" fill="#ff5a38"/>
<polygon points="167.69,362.56 169.74,360.51 171.79,362.56 169.74,364.61" fill="#ff5a38"/>
<polygon points="185.38,362.17 187.43,360.12 189.48,362.17 187.43,364.22" fill="#ff5a38"/>
<polygon points="203.08,361.26 205.13,359.21 207.18,361.26 205.13,363.31" fill="#ff5a38"/>
<line x1="39.2" y1="397.75" x2="211" y2="397.75" stroke="#c0c0c0" stroke-width="0.95" stroke-dasharray="3.5 3.07"/>
<rect x="39.5" y="268.45" width="172" height="159.9" fill="none" stroke="#1c1c1c" stroke-width="1.1"/>
<line x1="67.5" y1="428.35" x2="67.5" y2="434.15" stroke="#1c1c1c" stroke-width="1.1"/>
<text x="67.5" y="446.95" font-size="8.4" text-anchor="middle" fill="#1c1c1c">0.2</text>
<line x1="106.82" y1="428.35" x2="106.82" y2="434.15" stroke="#1c1c1c" stroke-width="1.1"/>
<text x="106.82" y="446.95" font-size="8.4" text-anchor="middle" fill="#1c1c1c">0.4</text>
<line x1="146.14" y1="428.35" x2="146.14" y2="434.15" stroke="#1c1c1c" stroke-width="1.1"/>
<text x="146.14" y="446.95" font-size="8.4" text-anchor="middle" fill="#1c1c1c">0.6</text>
<line x1="185.47" y1="428.35" x2="185.47" y2="434.15" stroke="#1c1c1c" stroke-width="1.1"/>
<text x="185.47" y="446.95" font-size="8.4" text-anchor="middle" fill="#1c1c1c">0.8</text>
<line x1="33.7" y1="422.43" x2="39.5" y2="422.43" stroke="#1c1c1c" stroke-width="1.1"/>
<text transform="translate(26.4 422.43) rotate(-90)" class="v" font-size="8.4" text-anchor="middle" fill="#1c1c1c">−0.1</text>
<line x1="33.7" y1="397.75" x2="39.5" y2="397.75" stroke="#1c1c1c" stroke-width="1.1"/>
<text transform="translate(26.4 397.75) rotate(-90)" class="v" font-size="8.4" text-anchor="middle" fill="#1c1c1c">0.0</text>
<line x1="33.7" y1="373.08" x2="39.5" y2="373.08" stroke="#1c1c1c" stroke-width="1.1"/>
<text transform="translate(26.4 373.08) rotate(-90)" class="v" font-size="8.4" text-anchor="middle" fill="#1c1c1c">0.1</text>
<line x1="33.7" y1="348.4" x2="39.5" y2="348.4" stroke="#1c1c1c" stroke-width="1.1"/>
<text transform="translate(26.4 348.4) rotate(-90)" class="v" font-size="8.4" text-anchor="middle" fill="#1c1c1c">0.2</text>
<line x1="33.7" y1="323.72" x2="39.5" y2="323.72" stroke="#1c1c1c" stroke-width="1.1"/>
<text transform="translate(26.4 323.72) rotate(-90)" class="v" font-size="8.4" text-anchor="middle" fill="#1c1c1c">0.3</text>
<line x1="33.7" y1="299.05" x2="39.5" y2="299.05" stroke="#1c1c1c" stroke-width="1.1"/>
<text transform="translate(26.4 299.05) rotate(-90)" class="v" font-size="8.4" text-anchor="middle" fill="#1c1c1c">0.4</text>
<line x1="33.7" y1="274.37" x2="39.5" y2="274.37" stroke="#1c1c1c" stroke-width="1.1"/>
<text transform="translate(26.4 274.37) rotate(-90)" class="v" font-size="8.4" text-anchor="middle" fill="#1c1c1c">0.5</text>
<text x="125.5" y="467.95" font-size="8.4" text-anchor="middle" fill="#1c1c1c">d</text>
<text transform="translate(6.1 348.4) rotate(-90)" class="v" font-size="8.4" text-anchor="middle" fill="#1c1c1c">Bias</text>
<rect x="39.5" y="268.45" width="116.7" height="32.6" fill="#fff" stroke="#1c1c1c" stroke-width="1.1"/>
<line x1="41.1" y1="276.4" x2="54.2" y2="276.4" stroke="#6fc672" stroke-width="1"/>
<circle cx="47.6" cy="276.4" r="1.7" fill="#6fc672"/>
<text x="60" y="278.75" font-size="6.52" fill="#1c1c1c" textLength="92.6" lengthAdjust="spacing">Two binary confounders method</text>
<line x1="41.1" y1="284.65" x2="44.1" y2="284.65" stroke="#4fa4ec" stroke-width="1"/>
<line x1="49.1" y1="284.65" x2="51" y2="284.65" stroke="#4fa4ec" stroke-width="1"/>
<polygon points="47.6,282.01 49.89,285.97 45.31,285.97" fill="#4fa4ec"/>
<text x="60" y="287" font-size="6.52" fill="#1c1c1c" textLength="39.0" lengthAdjust="spacing">Adjustment X</text>
<line x1="41.4" y1="293.15" x2="42.3" y2="293.15" stroke="#ff5a38" stroke-width="1"/>
<line x1="44.3" y1="293.15" x2="45.2" y2="293.15" stroke="#ff5a38" stroke-width="1"/>
<line x1="51" y1="293.15" x2="51.9" y2="293.15" stroke="#ff5a38" stroke-width="1"/>
<polygon points="45.9,293.15 47.6,291.45 49.3,293.15 47.6,294.85" fill="#ff5a38"/>
<text x="60" y="295.5" font-size="6.52" fill="#1c1c1c" textLength="63.4" lengthAdjust="spacing">Adjustment X+C1+C2</text>
</g>
<g>
<line x1="287.37" y1="335.96" x2="295.47" y2="335.99" stroke="#6fc672" stroke-width="1.25" stroke-dasharray="0.9 2.4"/>
<line x1="305.06" y1="336.16" x2="313.16" y2="336.43" stroke="#6fc672" stroke-width="1.25" stroke-dasharray="0.9 2.4"/>
<line x1="322.76" y1="336.42" x2="330.86" y2="336.12" stroke="#6fc672" stroke-width="1.25" stroke-dasharray="0.9 2.4"/>
<line x1="340.44" y1="335.59" x2="348.57" y2="334.99" stroke="#6fc672" stroke-width="1.25" stroke-dasharray="0.9 2.4"/>
<line x1="357.96" y1="333.29" x2="366.44" y2="330.83" stroke="#6fc672" stroke-width="1.25" stroke-dasharray="0.9 2.4"/>
<line x1="375.78" y1="328.66" x2="384.01" y2="327.22" stroke="#6fc672" stroke-width="1.25" stroke-dasharray="0.9 2.4"/>
<line x1="393.33" y1="324.98" x2="401.85" y2="322.34" stroke="#6fc672" stroke-width="1.25" stroke-dasharray="0.9 2.4"/>
<line x1="410.96" y1="319.3" x2="419.62" y2="316.19" stroke="#6fc672" stroke-width="1.25" stroke-dasharray="0.9 2.4"/>
<line x1="427.96" y1="311.68" x2="438" y2="304.1" stroke="#6fc672" stroke-width="1.25" stroke-dasharray="0.9 2.4"/>
<circle cx="282.57" cy="335.94" r="2.3" fill="#6fc672"/>
<circle cx="300.27" cy="336" r="2.3" fill="#6fc672"/>
<circle cx="317.96" cy="336.59" r="2.3" fill="#6fc672"/>
<circle cx="335.66" cy="335.94" r="2.3" fill="#6fc672"/>
<circle cx="353.35" cy="334.63" r="2.3" fill="#6fc672"/>
<circle cx="371.05" cy="329.49" r="2.3" fill="#6fc672"/>
<circle cx="388.74" cy="326.4" r="2.3" fill="#6fc672"/>
<circle cx="406.44" cy="320.92" r="2.3" fill="#6fc672"/>
<circle cx="424.13" cy="314.57" r="2.3" fill="#6fc672"/>
<circle cx="441.83" cy="301.21" r="2.3" fill="#6fc672"/>
<line x1="287.37" y1="405.24" x2="295.47" y2="405.23" stroke="#4fa4ec" stroke-width="1.25" stroke-dasharray="3.3 3.3 1.1 3"/>
<line x1="305.06" y1="405.31" x2="313.16" y2="405.46" stroke="#4fa4ec" stroke-width="1.25" stroke-dasharray="3.3 3.3 1.1 3"/>
<line x1="322.76" y1="405.66" x2="330.86" y2="405.85" stroke="#4fa4ec" stroke-width="1.25" stroke-dasharray="3.3 3.3 1.1 3"/>
<line x1="340.45" y1="406.11" x2="348.55" y2="406.36" stroke="#4fa4ec" stroke-width="1.25" stroke-dasharray="3.3 3.3 1.1 3"/>
<line x1="358.15" y1="406.55" x2="366.25" y2="406.62" stroke="#4fa4ec" stroke-width="1.25" stroke-dasharray="3.3 3.3 1.1 3"/>
<line x1="375.85" y1="406.7" x2="383.94" y2="406.77" stroke="#4fa4ec" stroke-width="1.25" stroke-dasharray="3.3 3.3 1.1 3"/>
<line x1="393.54" y1="406.84" x2="401.64" y2="406.9" stroke="#4fa4ec" stroke-width="1.25" stroke-dasharray="3.3 3.3 1.1 3"/>
<line x1="411.24" y1="406.97" x2="419.33" y2="407.03" stroke="#4fa4ec" stroke-width="1.25" stroke-dasharray="3.3 3.3 1.1 3"/>
<line x1="428.93" y1="407.11" x2="437.03" y2="407.17" stroke="#4fa4ec" stroke-width="1.25" stroke-dasharray="3.3 3.3 1.1 3"/>
<polygon points="282.57,401.37 285.94,407.2 279.2,407.2" fill="#4fa4ec"/>
<polygon points="300.27,401.33 303.63,407.16 296.9,407.16" fill="#4fa4ec"/>
<polygon points="317.96,401.66 321.33,407.49 314.59,407.49" fill="#4fa4ec"/>
<polygon points="335.66,402.07 339.02,407.9 332.29,407.9" fill="#4fa4ec"/>
<polygon points="353.35,402.62 356.72,408.46 349.99,408.46" fill="#4fa4ec"/>
<polygon points="371.05,402.77 374.41,408.6 367.68,408.6" fill="#4fa4ec"/>
<polygon points="388.74,402.92 392.11,408.75 385.38,408.75" fill="#4fa4ec"/>
<polygon points="406.44,403.05 409.81,408.88 403.07,408.88" fill="#4fa4ec"/>
<polygon points="424.13,403.18 427.5,409.01 420.77,409.01" fill="#4fa4ec"/>
<polygon points="441.83,403.33 445.2,409.16 438.46,409.16" fill="#4fa4ec"/>
<line x1="287.37" y1="389.34" x2="295.47" y2="389.34" stroke="#ff5a38" stroke-width="1.25" stroke-dasharray="8.3 4"/>
<line x1="305.07" y1="389.28" x2="313.16" y2="389.18" stroke="#ff5a38" stroke-width="1.25" stroke-dasharray="8.3 4"/>
<line x1="322.76" y1="389.07" x2="330.86" y2="388.98" stroke="#ff5a38" stroke-width="1.25" stroke-dasharray="8.3 4"/>
<line x1="340.46" y1="389.03" x2="348.55" y2="389.2" stroke="#ff5a38" stroke-width="1.25" stroke-dasharray="8.3 4"/>
<line x1="358.15" y1="389.53" x2="366.25" y2="389.91" stroke="#ff5a38" stroke-width="1.25" stroke-dasharray="8.3 4"/>
<line x1="375.85" y1="389.99" x2="383.95" y2="389.76" stroke="#ff5a38" stroke-width="1.25" stroke-dasharray="8.3 4"/>
<line x1="393.54" y1="389.63" x2="401.64" y2="389.66" stroke="#ff5a38" stroke-width="1.25" stroke-dasharray="8.3 4"/>
<line x1="411.24" y1="389.52" x2="419.34" y2="389.27" stroke="#ff5a38" stroke-width="1.25" stroke-dasharray="8.3 4"/>
<line x1="428.93" y1="388.86" x2="437.04" y2="388.44" stroke="#ff5a38" stroke-width="1.25" stroke-dasharray="8.3 4"/>
<polygon points="280.07,389.34 282.57,386.84 285.07,389.34 282.57,391.84" fill="#ff5a38"/>
<polygon points="297.77,389.34 300.27,386.84 302.77,389.34 300.27,391.84" fill="#ff5a38"/>
<polygon points="315.46,389.12 317.96,386.62 320.46,389.12 317.96,391.62" fill="#ff5a38"/>
<polygon points="333.16,388.93 335.66,386.43 338.16,388.93 335.66,391.43" fill="#ff5a38"/>
<polygon points="350.85,389.3 353.35,386.8 355.85,389.3 353.35,391.8" fill="#ff5a38"/>
<polygon points="368.55,390.13 371.05,387.63 373.55,390.13 371.05,392.63" fill="#ff5a38"/>
<polygon points="386.24,389.61 388.74,387.11 391.24,389.61 388.74,392.11" fill="#ff5a38"/>
<polygon points="403.94,389.67 406.44,387.17 408.94,389.67 406.44,392.17" fill="#ff5a38"/>
<polygon points="421.63,389.12 424.13,386.62 426.63,389.12 424.13,391.62" fill="#ff5a38"/>
<polygon points="439.33,388.19 441.83,385.69 444.33,388.19 441.83,390.69" fill="#ff5a38"/>
<line x1="275.9" y1="422.43" x2="447.7" y2="422.43" stroke="#c0c0c0" stroke-width="0.95" stroke-dasharray="3.5 3.07"/>
<rect x="276.2" y="268.45" width="172" height="159.9" fill="none" stroke="#1c1c1c" stroke-width="1.1"/>
<line x1="304.2" y1="428.35" x2="304.2" y2="434.15" stroke="#1c1c1c" stroke-width="1.1"/>
<text x="304.2" y="446.95" font-size="8.4" text-anchor="middle" fill="#1c1c1c">0.2</text>
<line x1="343.52" y1="428.35" x2="343.52" y2="434.15" stroke="#1c1c1c" stroke-width="1.1"/>
<text x="343.52" y="446.95" font-size="8.4" text-anchor="middle" fill="#1c1c1c">0.4</text>
<line x1="382.84" y1="428.35" x2="382.84" y2="434.15" stroke="#1c1c1c" stroke-width="1.1"/>
<text x="382.84" y="446.95" font-size="8.4" text-anchor="middle" fill="#1c1c1c">0.6</text>
<line x1="422.17" y1="428.35" x2="422.17" y2="434.15" stroke="#1c1c1c" stroke-width="1.1"/>
<text x="422.17" y="446.95" font-size="8.4" text-anchor="middle" fill="#1c1c1c">0.8</text>
<line x1="270.4" y1="422.43" x2="276.2" y2="422.43" stroke="#1c1c1c" stroke-width="1.1"/>
<text transform="translate(263.1 422.43) rotate(-90)" class="v" font-size="8.4" text-anchor="middle" fill="#1c1c1c">0.00</text>
<line x1="270.4" y1="385.41" x2="276.2" y2="385.41" stroke="#1c1c1c" stroke-width="1.1"/>
<text transform="translate(263.1 385.41) rotate(-90)" class="v" font-size="8.4" text-anchor="middle" fill="#1c1c1c">0.02</text>
<line x1="270.4" y1="348.4" x2="276.2" y2="348.4" stroke="#1c1c1c" stroke-width="1.1"/>
<text transform="translate(263.1 348.4) rotate(-90)" class="v" font-size="8.4" text-anchor="middle" fill="#1c1c1c">0.04</text>
<line x1="270.4" y1="311.39" x2="276.2" y2="311.39" stroke="#1c1c1c" stroke-width="1.1"/>
<text transform="translate(263.1 311.39) rotate(-90)" class="v" font-size="8.4" text-anchor="middle" fill="#1c1c1c">0.06</text>
<line x1="270.4" y1="274.37" x2="276.2" y2="274.37" stroke="#1c1c1c" stroke-width="1.1"/>
<text transform="translate(263.1 274.37) rotate(-90)" class="v" font-size="8.4" text-anchor="middle" fill="#1c1c1c">0.08</text>
<text x="362.2" y="467.95" font-size="8.4" text-anchor="middle" fill="#1c1c1c">d</text>
<text transform="translate(242.8 348.4) rotate(-90)" class="v" font-size="8.4" text-anchor="middle" fill="#1c1c1c">SE</text>
<rect x="276.2" y="268.45" width="116.7" height="32.6" fill="#fff" stroke="#1c1c1c" stroke-width="1.1"/>
<line x1="277.8" y1="276.4" x2="290.9" y2="276.4" stroke="#6fc672" stroke-width="1"/>
<circle cx="284.3" cy="276.4" r="1.7" fill="#6fc672"/>
<text x="296.7" y="278.75" font-size="6.52" fill="#1c1c1c" textLength="92.6" lengthAdjust="spacing">Two binary confounders method</text>
<line x1="277.8" y1="284.65" x2="280.8" y2="284.65" stroke="#4fa4ec" stroke-width="1"/>
<line x1="285.8" y1="284.65" x2="287.7" y2="284.65" stroke="#4fa4ec" stroke-width="1"/>
<polygon points="284.3,282.01 286.59,285.97 282.01,285.97" fill="#4fa4ec"/>
<text x="296.7" y="287" font-size="6.52" fill="#1c1c1c" textLength="39.0" lengthAdjust="spacing">Adjustment X</text>
<line x1="278.1" y1="293.15" x2="279" y2="293.15" stroke="#ff5a38" stroke-width="1"/>
<line x1="281" y1="293.15" x2="281.9" y2="293.15" stroke="#ff5a38" stroke-width="1"/>
<line x1="287.7" y1="293.15" x2="288.6" y2="293.15" stroke="#ff5a38" stroke-width="1"/>
<polygon points="282.6,293.15 284.3,291.45 286,293.15 284.3,294.85" fill="#ff5a38"/>
<text x="296.7" y="295.5" font-size="6.52" fill="#1c1c1c" textLength="63.4" lengthAdjust="spacing">Adjustment X+C1+C2</text>
</g>
<g>
<line x1="523.57" y1="419.81" x2="532.27" y2="420" stroke="#6fc672" stroke-width="1.25" stroke-dasharray="0.9 2.4"/>
<line x1="541.27" y1="420.14" x2="549.96" y2="420.2" stroke="#6fc672" stroke-width="1.25" stroke-dasharray="0.9 2.4"/>
<line x1="558.93" y1="419.71" x2="567.69" y2="418.67" stroke="#6fc672" stroke-width="1.25" stroke-dasharray="0.9 2.4"/>
<line x1="576.62" y1="418.73" x2="585.39" y2="419.91" stroke="#6fc672" stroke-width="1.25" stroke-dasharray="0.9 2.4"/>
<line x1="594.07" y1="418.93" x2="603.33" y2="415.48" stroke="#6fc672" stroke-width="1.25" stroke-dasharray="0.9 2.4"/>
<line x1="611.83" y1="415.29" x2="620.96" y2="418.21" stroke="#6fc672" stroke-width="1.25" stroke-dasharray="0.9 2.4"/>
<line x1="629.74" y1="419.58" x2="638.44" y2="419.58" stroke="#6fc672" stroke-width="1.25" stroke-dasharray="0.9 2.4"/>
<line x1="647.28" y1="418.38" x2="656.3" y2="415.9" stroke="#6fc672" stroke-width="1.25" stroke-dasharray="0.9 2.4"/>
<line x1="664.99" y1="415.84" x2="673.98" y2="418.18" stroke="#6fc672" stroke-width="1.25" stroke-dasharray="0.9 2.4"/>
<circle cx="519.07" cy="419.71" r="2.15" fill="#6fc672"/>
<circle cx="536.77" cy="420.1" r="2.15" fill="#6fc672"/>
<circle cx="554.46" cy="420.24" r="2.15" fill="#6fc672"/>
<circle cx="572.16" cy="418.13" r="2.15" fill="#6fc672"/>
<circle cx="589.85" cy="420.5" r="2.15" fill="#6fc672"/>
<circle cx="607.55" cy="413.91" r="2.15" fill="#6fc672"/>
<circle cx="625.24" cy="419.58" r="2.15" fill="#6fc672"/>
<circle cx="642.94" cy="419.58" r="2.15" fill="#6fc672"/>
<circle cx="660.63" cy="414.71" r="2.15" fill="#6fc672"/>
<circle cx="678.33" cy="419.32" r="2.15" fill="#6fc672"/>
<line x1="523.5" y1="325.12" x2="532.33" y2="326.67" stroke="#4fa4ec" stroke-width="1.25" stroke-dasharray="3.3 3.3"/>
<line x1="540.18" y1="324.52" x2="551.05" y2="315.2" stroke="#4fa4ec" stroke-width="1.25" stroke-dasharray="3.3 3.3"/>
<line x1="557.96" y1="315.1" x2="568.66" y2="323.73" stroke="#4fa4ec" stroke-width="1.25" stroke-dasharray="3.3 3.3"/>
<line x1="576.63" y1="326.09" x2="585.38" y2="325.18" stroke="#4fa4ec" stroke-width="1.25" stroke-dasharray="3.3 3.3"/>
<line x1="594.34" y1="324.35" x2="603.06" y2="323.66" stroke="#4fa4ec" stroke-width="1.25" stroke-dasharray="3.3 3.3"/>
<line x1="611.69" y1="321.55" x2="621.1" y2="317.58" stroke="#4fa4ec" stroke-width="1.25" stroke-dasharray="3.3 3.3"/>
<line x1="629.7" y1="316.48" x2="638.49" y2="317.77" stroke="#4fa4ec" stroke-width="1.25" stroke-dasharray="3.3 3.3"/>
<line x1="646.84" y1="320.66" x2="656.73" y2="326.32" stroke="#4fa4ec" stroke-width="1.25" stroke-dasharray="3.3 3.3"/>
<line x1="663.17" y1="324.84" x2="675.79" y2="306.37" stroke="#4fa4ec" stroke-width="1.25" stroke-dasharray="3.3 3.3"/>
<polygon points="519.07,321.15 521.83,325.94 516.31,325.94" fill="#4fa4ec"/>
<polygon points="536.77,324.26 539.53,329.04 534,329.04" fill="#4fa4ec"/>
<polygon points="554.46,309.09 557.22,313.87 551.7,313.87" fill="#4fa4ec"/>
<polygon points="572.16,323.37 574.92,328.16 569.4,328.16" fill="#4fa4ec"/>
<polygon points="589.85,321.52 592.61,326.31 587.09,326.31" fill="#4fa4ec"/>
<polygon points="607.55,320.12 610.31,324.9 604.79,324.9" fill="#4fa4ec"/>
<polygon points="625.24,312.64 628,317.42 622.48,317.42" fill="#4fa4ec"/>
<polygon points="642.94,315.23 645.7,320.01 640.18,320.01" fill="#4fa4ec"/>
<polygon points="660.63,325.37 663.4,330.15 657.87,330.15" fill="#4fa4ec"/>
<polygon points="678.33,299.46 681.09,304.24 675.57,304.24" fill="#4fa4ec"/>
<line x1="523.11" y1="402.75" x2="532.73" y2="407.46" stroke="#ff5a38" stroke-width="1.25" stroke-dasharray="8.3 4"/>
<line x1="540.92" y1="407.71" x2="550.31" y2="403.81" stroke="#ff5a38" stroke-width="1.25" stroke-dasharray="8.3 4"/>
<line x1="558.77" y1="403.39" x2="567.85" y2="406.16" stroke="#ff5a38" stroke-width="1.25" stroke-dasharray="8.3 4"/>
<line x1="576.59" y1="408.23" x2="585.42" y2="409.74" stroke="#ff5a38" stroke-width="1.25" stroke-dasharray="8.3 4"/>
<line x1="594.35" y1="410.74" x2="603.05" y2="411.19" stroke="#ff5a38" stroke-width="1.25" stroke-dasharray="8.3 4"/>
<line x1="612.04" y1="411.22" x2="620.75" y2="410.83" stroke="#ff5a38" stroke-width="1.25" stroke-dasharray="8.3 4"/>
<line x1="629.68" y1="409.87" x2="638.5" y2="408.38" stroke="#ff5a38" stroke-width="1.25" stroke-dasharray="8.3 4"/>
<line x1="647.4" y1="408.18" x2="656.17" y2="409.28" stroke="#ff5a38" stroke-width="1.25" stroke-dasharray="8.3 4"/>
<line x1="664.56" y1="407.65" x2="674.4" y2="402.17" stroke="#ff5a38" stroke-width="1.25" stroke-dasharray="8.3 4"/>
<polygon points="517.02,400.77 519.07,398.72 521.12,400.77 519.07,402.82" fill="#ff5a38"/>
<polygon points="534.72,409.44 536.77,407.39 538.82,409.44 536.77,411.49" fill="#ff5a38"/>
<polygon points="552.41,402.08 554.46,400.03 556.51,402.08 554.46,404.13" fill="#ff5a38"/>
<polygon points="570.11,407.47 572.16,405.42 574.21,407.47 572.16,409.52" fill="#ff5a38"/>
<polygon points="587.8,410.5 589.85,408.45 591.9,410.5 589.85,412.55" fill="#ff5a38"/>
<polygon points="605.5,411.42 607.55,409.37 609.6,411.42 607.55,413.47" fill="#ff5a38"/>
<polygon points="623.19,410.63 625.24,408.58 627.29,410.63 625.24,412.68" fill="#ff5a38"/>
<polygon points="640.89,407.62 642.94,405.57 644.99,407.62 642.94,409.67" fill="#ff5a38"/>
<polygon points="658.58,409.84 660.63,407.79 662.68,409.84 660.63,411.89" fill="#ff5a38"/>
<polygon points="676.28,399.98 678.33,397.93 680.38,399.98 678.33,402.03" fill="#ff5a38"/>
<line x1="512.4" y1="422.43" x2="684.2" y2="422.43" stroke="#c0c0c0" stroke-width="0.95" stroke-dasharray="3.5 3.07"/>
<rect x="512.7" y="268.45" width="172" height="159.9" fill="none" stroke="#1c1c1c" stroke-width="1.1"/>
<line x1="540.7" y1="428.35" x2="540.7" y2="434.15" stroke="#1c1c1c" stroke-width="1.1"/>
<text x="540.7" y="446.95" font-size="8.4" text-anchor="middle" fill="#1c1c1c">0.2</text>
<line x1="580.02" y1="428.35" x2="580.02" y2="434.15" stroke="#1c1c1c" stroke-width="1.1"/>
<text x="580.02" y="446.95" font-size="8.4" text-anchor="middle" fill="#1c1c1c">0.4</text>
<line x1="619.34" y1="428.35" x2="619.34" y2="434.15" stroke="#1c1c1c" stroke-width="1.1"/>
<text x="619.34" y="446.95" font-size="8.4" text-anchor="middle" fill="#1c1c1c">0.6</text>
<line x1="658.67" y1="428.35" x2="658.67" y2="434.15" stroke="#1c1c1c" stroke-width="1.1"/>
<text x="658.67" y="446.95" font-size="8.4" text-anchor="middle" fill="#1c1c1c">0.8</text>
<line x1="506.9" y1="422.43" x2="512.7" y2="422.43" stroke="#1c1c1c" stroke-width="1.1"/>
<text transform="translate(499.6 422.43) rotate(-90)" class="v" font-size="8.4" text-anchor="middle" fill="#1c1c1c">0.00</text>
<line x1="506.9" y1="385.41" x2="512.7" y2="385.41" stroke="#1c1c1c" stroke-width="1.1"/>
<text transform="translate(499.6 385.41) rotate(-90)" class="v" font-size="8.4" text-anchor="middle" fill="#1c1c1c">0.05</text>
<line x1="506.9" y1="348.4" x2="512.7" y2="348.4" stroke="#1c1c1c" stroke-width="1.1"/>
<text transform="translate(499.6 348.4) rotate(-90)" class="v" font-size="8.4" text-anchor="middle" fill="#1c1c1c">0.10</text>
<line x1="506.9" y1="311.39" x2="512.7" y2="311.39" stroke="#1c1c1c" stroke-width="1.1"/>
<text transform="translate(499.6 311.39) rotate(-90)" class="v" font-size="8.4" text-anchor="middle" fill="#1c1c1c">0.15</text>
<line x1="506.9" y1="274.37" x2="512.7" y2="274.37" stroke="#1c1c1c" stroke-width="1.1"/>
<text transform="translate(499.6 274.37) rotate(-90)" class="v" font-size="8.4" text-anchor="middle" fill="#1c1c1c">0.20</text>
<text x="598.7" y="467.95" font-size="8.4" text-anchor="middle" fill="#1c1c1c">d</text>
<text transform="translate(479.3 348.4) rotate(-90)" class="v" font-size="8.4" text-anchor="middle" fill="#1c1c1c">MSE</text>
<rect x="512.7" y="268.45" width="116.7" height="32.6" fill="#fff" stroke="#1c1c1c" stroke-width="1.1"/>
<line x1="514.3" y1="276.4" x2="527.4" y2="276.4" stroke="#6fc672" stroke-width="1"/>
<circle cx="520.8" cy="276.4" r="1.7" fill="#6fc672"/>
<text x="533.2" y="278.75" font-size="6.52" fill="#1c1c1c" textLength="92.6" lengthAdjust="spacing">Two binary confounders method</text>
<line x1="514.3" y1="284.65" x2="517.3" y2="284.65" stroke="#4fa4ec" stroke-width="1"/>
<line x1="522.3" y1="284.65" x2="524.2" y2="284.65" stroke="#4fa4ec" stroke-width="1"/>
<polygon points="520.8,282.01 523.09,285.97 518.51,285.97" fill="#4fa4ec"/>
<text x="533.2" y="287" font-size="6.52" fill="#1c1c1c" textLength="39.0" lengthAdjust="spacing">Adjustment X</text>
<line x1="514.6" y1="293.15" x2="515.5" y2="293.15" stroke="#ff5a38" stroke-width="1"/>
<line x1="517.5" y1="293.15" x2="518.4" y2="293.15" stroke="#ff5a38" stroke-width="1"/>
<line x1="524.2" y1="293.15" x2="525.1" y2="293.15" stroke="#ff5a38" stroke-width="1"/>
<polygon points="519.1,293.15 520.8,291.45 522.5,293.15 520.8,294.85" fill="#ff5a38"/>
<text x="533.2" y="295.5" font-size="6.52" fill="#1c1c1c" textLength="63.4" lengthAdjust="spacing">Adjustment X+C1+C2</text>
</g>
<text transform="translate(37.8 10.0) scale(1.0 1.02)" font-size="14" font-weight="bold" fill="#111" style="stroke:#111;stroke-width:0.7px">(a)</text>
<text transform="translate(37.8 251.6) scale(1.0 1.02)" font-size="14" font-weight="bold" fill="#111" style="stroke:#111;stroke-width:0.7px">(b)</text>
</svg>
</body>
</html>
